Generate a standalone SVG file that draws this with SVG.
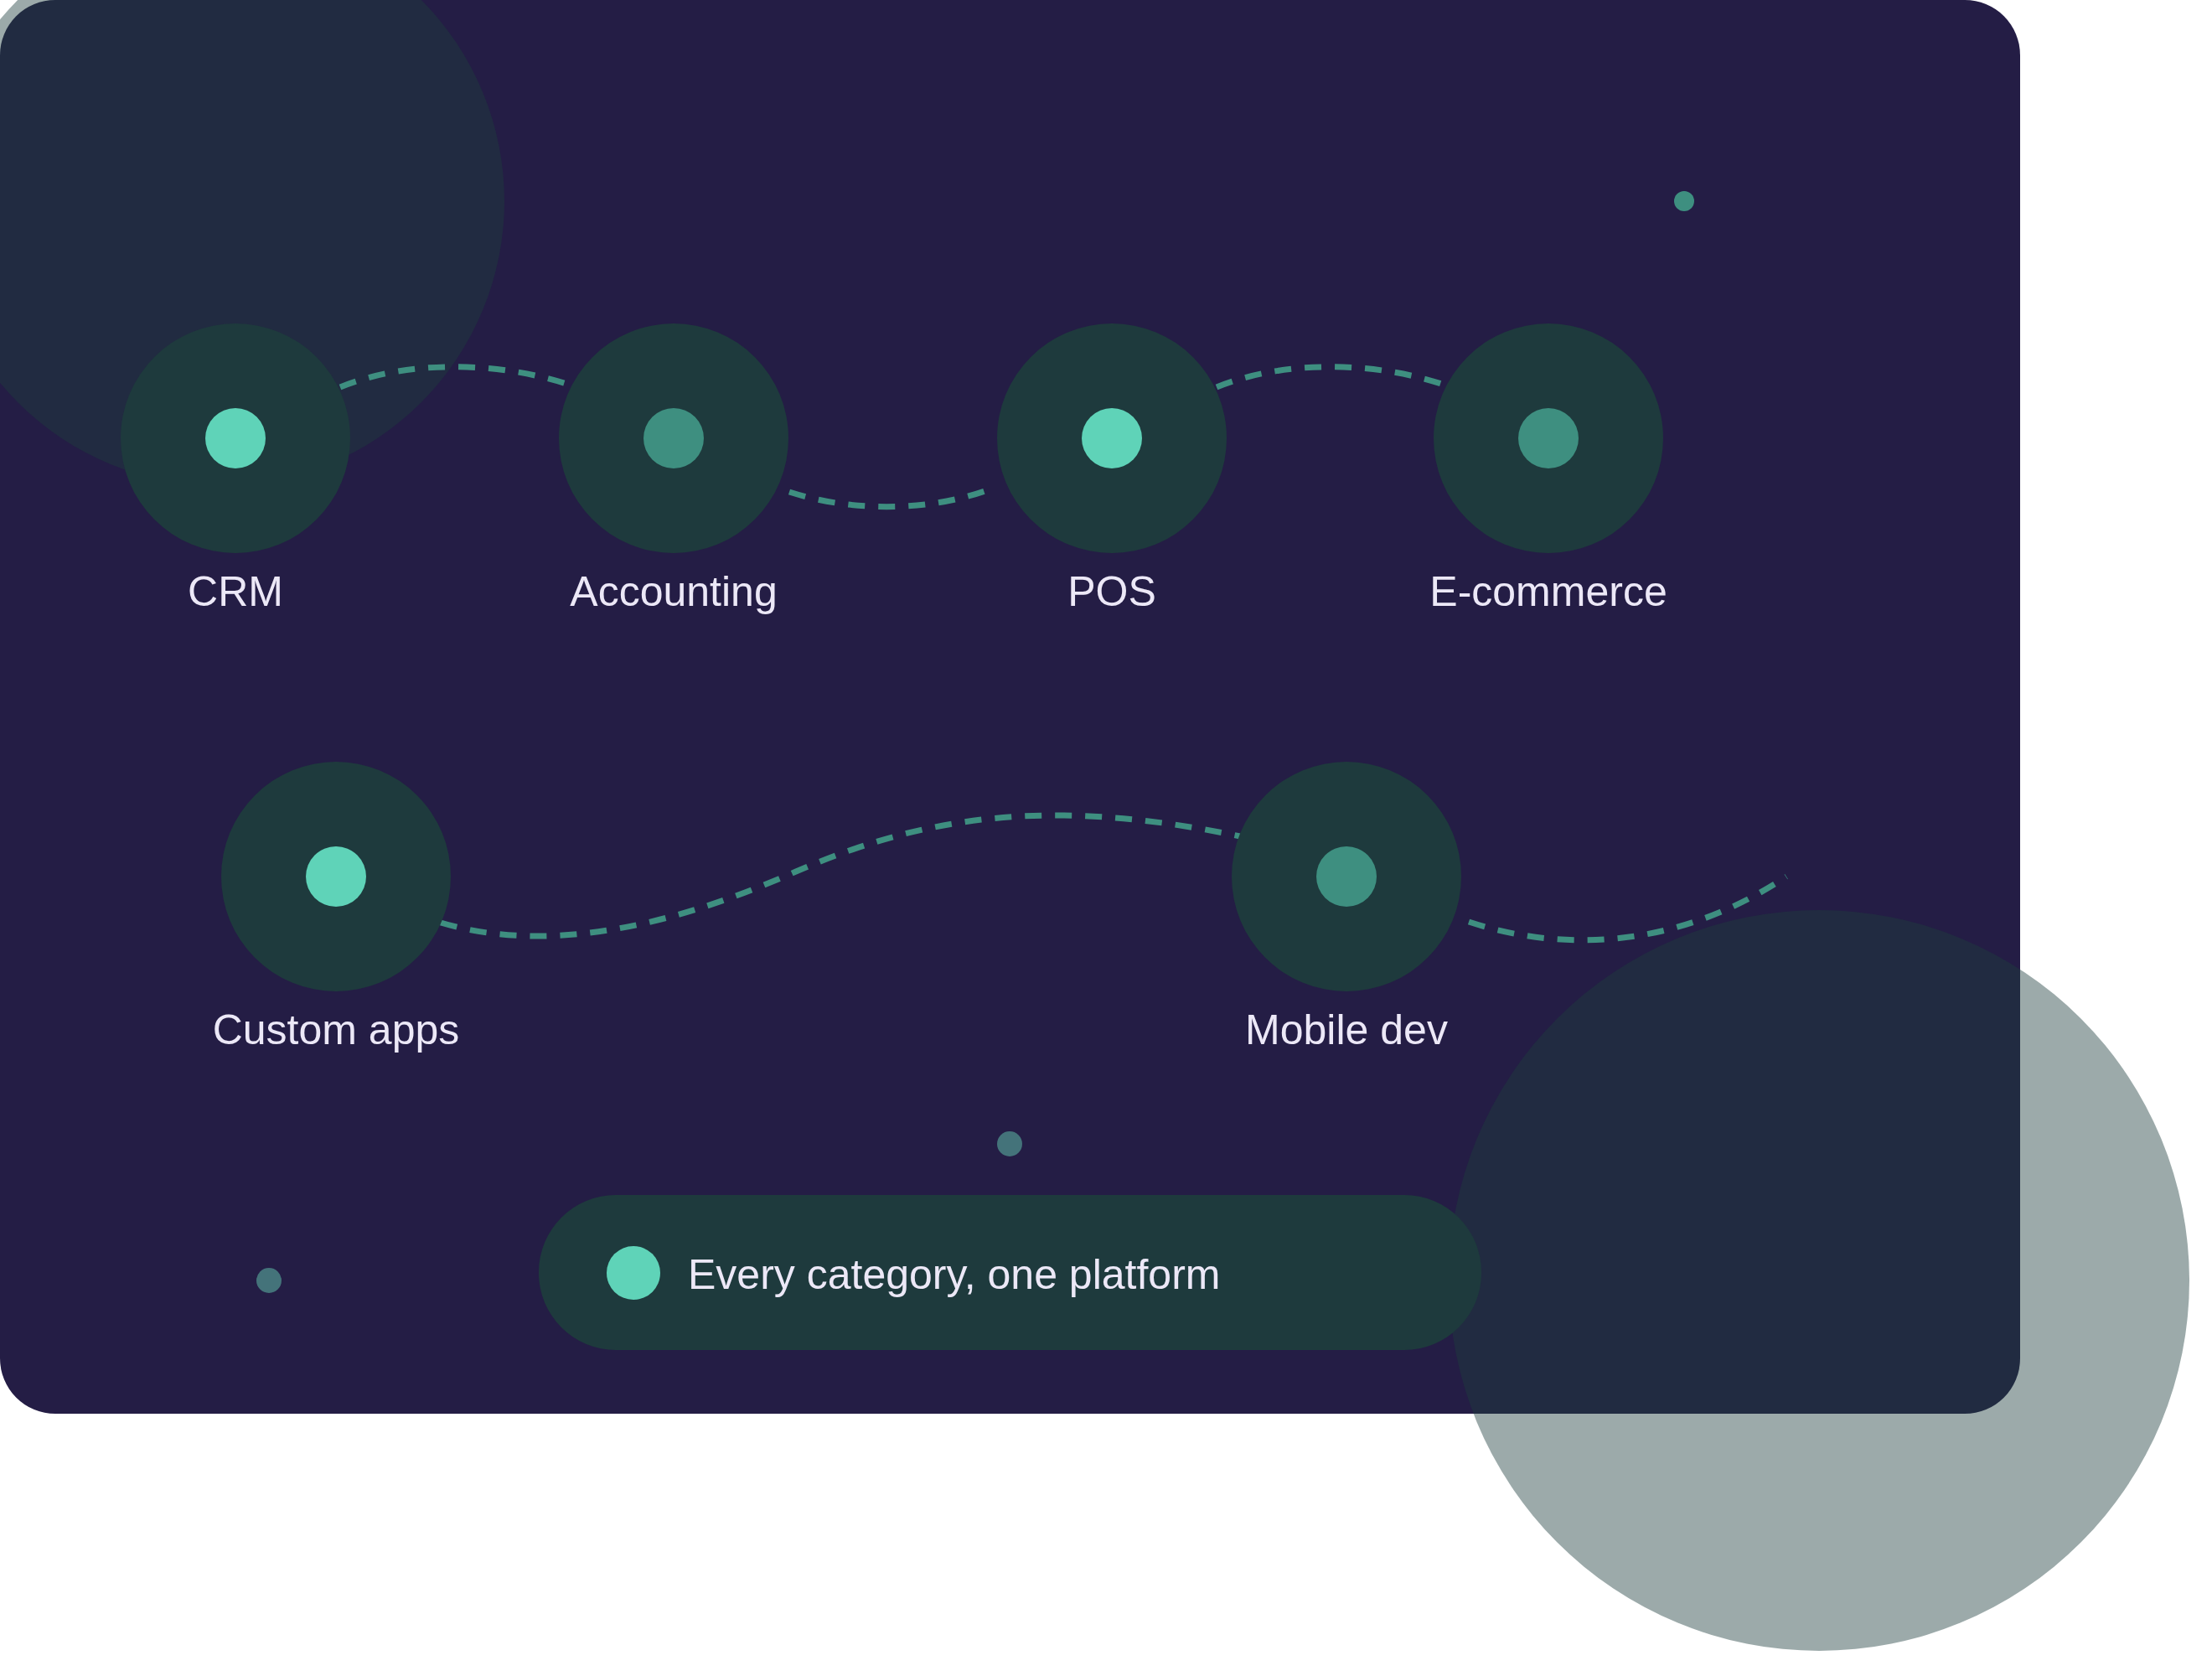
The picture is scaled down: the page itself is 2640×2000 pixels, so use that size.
<svg xmlns="http://www.w3.org/2000/svg" width="2640" height="2000" viewBox="0 0 2640 2000">
<style>
.node{fill:#1e3a3d}
.on{fill:#5fd3b8}
.off{fill:#3e8f80}
.lbl{font-family:"Liberation Sans",Arial,sans-serif;font-size:50px;fill:#ece8f7;text-anchor:middle}
.con{fill:none;stroke:#3e8f80;stroke-width:7;stroke-dasharray:20 16}
.blob{fill:#1d3d3d;fill-opacity:0.44}
</style>
<rect width="2640" height="2000" fill="#ffffff"/>
<rect x="0" y="0" width="2411" height="1687" rx="66" fill="#241d45"/>
<circle class="blob" cx="262" cy="240" r="340"/>
<circle class="blob" cx="2171" cy="1528" r="442"/>
<circle cx="2010" cy="240" r="12" fill="#3e8f80"/>
<circle cx="1205" cy="1365" r="15" fill="#44737a"/>
<circle cx="321" cy="1528" r="15" fill="#44737a"/>
<g id="connectors">
<path class="con" d="M406,462 C490,428 600,432 682,460"/>
<path class="con" d="M942,587 C1020,612 1110,610 1181,584"/>
<path class="con" d="M1452,462 C1536,428 1646,432 1726,460"/>
<path class="con" d="M526,1101 C640,1135 780,1115 950,1040 C1100,975 1250,950 1480,998"/>
<path class="con" d="M1753,1100 C1850,1132 1990,1140 2132,1046"/>
</g>
<g id="crm"><circle class="node" cx="281" cy="523" r="137"/><circle class="on" cx="281" cy="523" r="36"/><text class="lbl" x="281" y="723">CRM</text></g>
<g id="accounting"><circle class="node" cx="804" cy="523" r="137"/><circle class="off" cx="804" cy="523" r="36"/><text class="lbl" x="804" y="723">Accounting</text></g>
<g id="pos"><circle class="node" cx="1327" cy="523" r="137"/><circle class="on" cx="1327" cy="523" r="36"/><text class="lbl" x="1327" y="723">POS</text></g>
<g id="ecommerce"><circle class="node" cx="1848" cy="523" r="137"/><circle class="off" cx="1848" cy="523" r="36"/><text class="lbl" x="1848" y="723">E-commerce</text></g>
<g id="custom"><circle class="node" cx="401" cy="1046" r="137"/><circle class="on" cx="401" cy="1046" r="36"/><text class="lbl" x="401" y="1246">Custom apps</text></g>
<g id="mobile"><circle class="node" cx="1607" cy="1046" r="137"/><circle class="off" cx="1607" cy="1046" r="36"/><text class="lbl" x="1607" y="1246">Mobile dev</text></g>
<g id="pill"><rect x="643" y="1426" width="1125" height="185" rx="92" class="node"/><circle class="on" cx="756" cy="1519" r="32"/><text class="lbl" x="821" y="1538" style="text-anchor:start">Every category, one platform</text></g>
</svg>
